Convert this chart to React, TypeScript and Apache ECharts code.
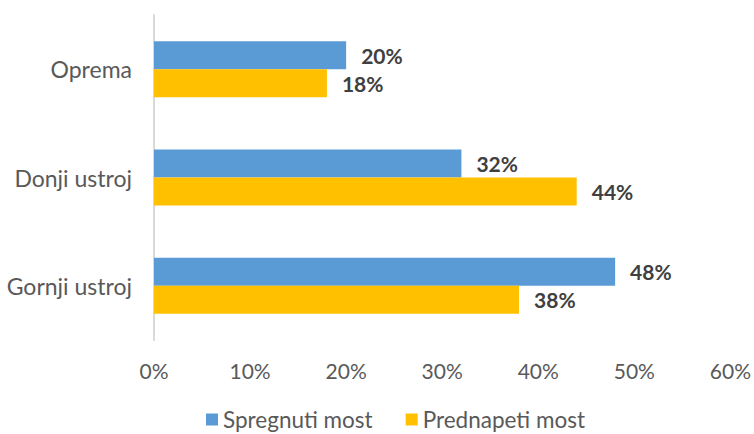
import React, { useEffect, useRef } from "react";
import * as echarts from "echarts";

const categories = ["Oprema", "Donji ustroj", "Gornji ustroj"];
const seriesNames = ["Spregnuti most", "Prednapeti most"];
const spregnuti = [20, 32, 48];
const prednapeti = [18, 44, 38];
const xTicks = [0, 10, 20, 30, 40, 50, 60];

export default function App() {
  const ref = useRef<HTMLDivElement>(null);
  useEffect(() => {
    if (!ref.current) return;
    const chart = echarts.init(ref.current, null, { renderer: "svg" });
    const font = "Lato, 'Open Sans', sans-serif";
    const labelCfg = {
      show: true,
      position: "right",
      distance: 15,
      color: "#404040",
      fontWeight: "bold",
      fontSize: 21,
      fontFamily: font,
      formatter: (p: any) => p.value + "%",
    };
    chart.setOption({
      animation: false,
      backgroundColor: "#ffffff",
      textStyle: { fontFamily: font },
      grid: { left: 154, right: 21, top: 15, bottom: 94, containLabel: false },
      legend: {
        data: seriesNames,
        top: 403,
        left: 201,
        itemWidth: 12,
        itemHeight: 12,
        itemGap: 33,
        icon: "rect",
        textStyle: { color: "#595959", fontSize: 22.5, fontFamily: font },
      },
      xAxis: {
        type: "value",
        min: xTicks[0],
        max: xTicks[xTicks.length - 1],
        interval: 10,
        axisLine: { show: false },
        axisTick: { show: false },
        splitLine: { show: false },
        axisLabel: {
          color: "#595959",
          fontSize: 21,
          fontFamily: font,
          margin: 20,
          formatter: (v: number) => v + "%",
        },
      },
      yAxis: {
        type: "category",
        data: categories,
        inverse: true,
        axisLine: { show: true, lineStyle: { color: "#d9d9d9", width: 2 } },
        axisTick: { show: false },
        axisLabel: { color: "#595959", fontSize: 23, fontFamily: font, margin: 22 },
      },
      series: [
        {
          name: seriesNames[0],
          type: "bar",
          data: spregnuti,
          barWidth: 28,
          barGap: "0%",
          itemStyle: { color: "#5B9BD5" },
          label: labelCfg,
        },
        {
          name: seriesNames[1],
          type: "bar",
          data: prednapeti,
          barWidth: 28,
          barGap: "0%",
          itemStyle: { color: "#FFC000" },
          label: labelCfg,
        },
      ],
    });
    return () => chart.dispose();
  }, []);
  return (
    <div
      ref={ref}
      style={{ position: "absolute", left: 0, top: 0, width: 754, height: 434 }}
    />
  );
}
